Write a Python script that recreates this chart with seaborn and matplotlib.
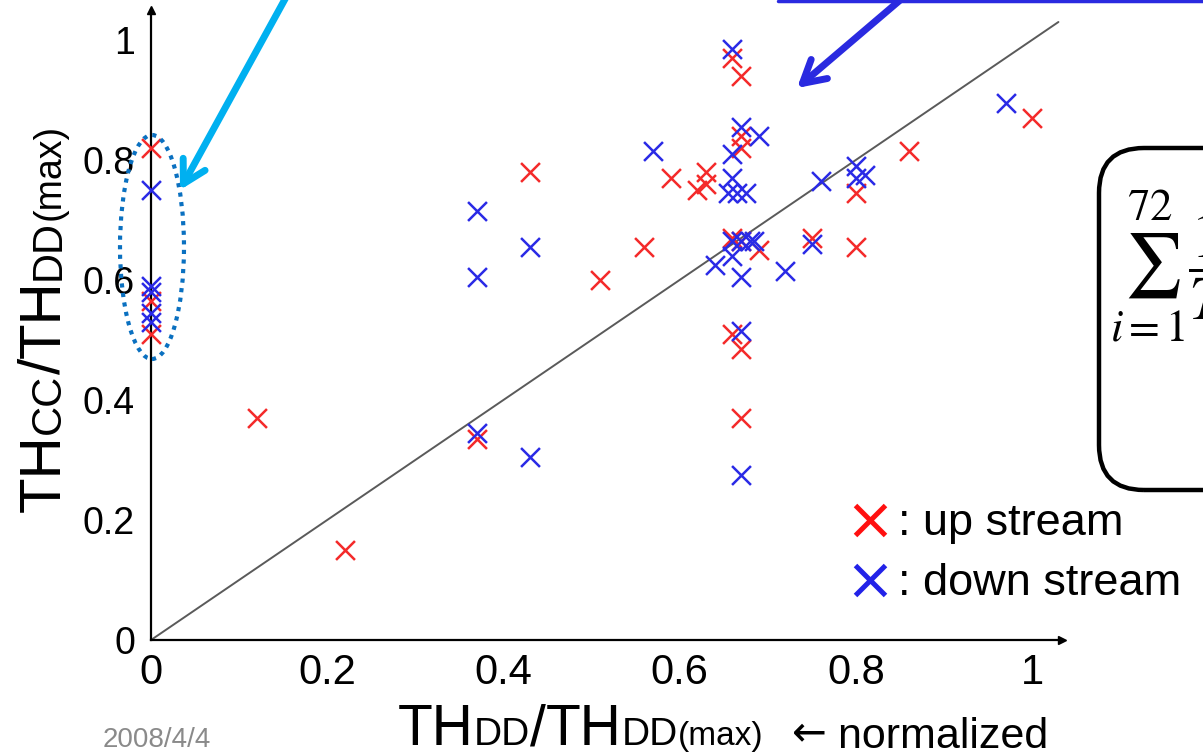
import numpy as np
import pandas as pd
import matplotlib
matplotlib.use("Agg")
import matplotlib.pyplot as plt
import seaborn as sns
from matplotlib import font_manager
from matplotlib.transforms import IdentityTransform
from matplotlib.patches import FancyBboxPatch, Ellipse, FancyArrowPatch
from matplotlib.lines import Line2D

# ---------------- data ----------------
up_x = [0, 0, 0, 0.12, 0.22, 0.37, 0.43, 0.51, 0.56, 0.59, 0.62, 0.63, 0.63,
        0.66, 0.67, 0.67, 0.67, 0.66, 0.67, 0.69, 0.66, 0.67, 0.67, 0.75,
        0.80, 0.80, 0.86, 1.00]
up_y = [0.82, 0.565, 0.51, 0.37, 0.15, 0.335, 0.78, 0.60, 0.655, 0.77, 0.75,
        0.78, 0.76, 0.97, 0.94, 0.84, 0.82, 0.67, 0.665, 0.65, 0.51, 0.485,
        0.37, 0.67, 0.745, 0.655, 0.815, 0.87]
down_x = [0, 0, 0, 0, 0, 0.37, 0.37, 0.37, 0.43, 0.43, 0.57, 0.66, 0.67, 0.69,
          0.66, 0.66, 0.655, 0.665, 0.675, 0.66, 0.67, 0.68, 0.685, 0.64,
          0.66, 0.67, 0.72, 0.67, 0.67, 0.75, 0.76, 0.80, 0.81, 0.80, 0.97]
down_y = [0.75, 0.59, 0.58, 0.545, 0.53, 0.715, 0.605, 0.345, 0.655, 0.305,
          0.815, 0.985, 0.855, 0.84, 0.81, 0.77, 0.745, 0.745, 0.745, 0.665,
          0.665, 0.665, 0.665, 0.625, 0.64, 0.605, 0.615, 0.515, 0.275, 0.66,
          0.765, 0.79, 0.775, 0.77, 0.895]
diag = [0, 1.03]
tick_vals = [0, 0.2, 0.4, 0.6, 0.8, 1.0]
tick_labels = ["0", "0.2", "0.4", "0.6", "0.8", "1"]
legend_labels = [": up stream", ": down stream"]

RED = "#f42a2a"
BLUE = "#2a2ae6"

# ---------------- style ----------------
sns.set_theme(style="white")
plt.rcParams["font.family"] = ["Liberation Sans", "DejaVu Sans"]
names = {f.name for f in font_manager.fontManager.ttflist}
NARROW = "Liberation Sans Narrow" if "Liberation Sans Narrow" in names else "Liberation Sans"

W, H = 1203, 755
fig = plt.figure(figsize=(W / 100, H / 100), dpi=100)
fig.patch.set_facecolor("white")

# axes placement in pixels: origin (151,640), 1 unit = 881 px (x), 600 px (y)
x0, y0, ux, uy = 151, 640, 881, 600
xmax, ymax = 1.034, 1.05
ax = fig.add_axes([x0 / W, (H - y0) / H, xmax * ux / W, ymax * uy / H])
ax.set_xlim(0, xmax)
ax.set_ylim(0, ymax)
ax.set_facecolor("none")

# diagonal
ax.plot(diag, diag, color="#5a5a5a", lw=1.4, zorder=1)

df_up = pd.DataFrame({"x": up_x, "y": up_y})
df_dn = pd.DataFrame({"x": down_x, "y": down_y})
sns.scatterplot(data=df_up, x="x", y="y", marker="x", color=RED, s=185,
                linewidth=1.8, ax=ax, clip_on=False, zorder=3)
sns.scatterplot(data=df_dn, x="x", y="y", marker="x", color=BLUE, s=185,
                linewidth=1.8, ax=ax, clip_on=False, zorder=3)

# spines / ticks
for s in ["top", "right"]:
    ax.spines[s].set_visible(False)
for s in ["left", "bottom"]:
    ax.spines[s].set_color("black")
    ax.spines[s].set_linewidth(1.6)
ax.plot(1, 0, ">", color="black", ms=6, transform=ax.transAxes, clip_on=False)
ax.plot(0, 1, "^", color="black", ms=6, transform=ax.transAxes, clip_on=False)
ax.set_xticks(tick_vals)
ax.set_yticks(tick_vals)
ax.set_xticklabels(tick_labels, fontsize=30, family=NARROW)
ax.set_yticklabels(tick_labels, fontsize=27)
ax.tick_params(axis="both", direction="inout", length=9, width=1.2,
               color="black", labelcolor="black")
ax.tick_params(axis="x", pad=5)
ax.tick_params(axis="y", pad=7)
ax.set_xlabel("")
ax.set_ylabel("")

# ---------------- composed axis labels ----------------
renderer = fig.canvas.get_renderer()


def pieces(parts, start, rotation=0):
    x, y = start
    for txt, size in parts:
        t = fig.text(0, 0, txt, fontsize=size, family=NARROW)
        w = t.get_window_extent(renderer).width
        t.remove()
        fig.text(x / W, (H - y) / H, txt, fontsize=size, family=NARROW,
                 ha="left", va="baseline", rotation=rotation,
                 rotation_mode="anchor", color="black")
        if rotation == 0:
            x += w
        else:
            y -= w


pieces([("TH", 41), ("DD", 28), ("/", 41), ("TH", 41), ("DD", 28), ("(max)", 24)],
       (398, 745))
pieces([("TH", 42), ("CC", 30), ("/", 42), ("TH", 42), ("DD", 30), ("(max)", 27)],
       (60, 512), rotation=90)

fig.text(103 / W, (H - 747) / H, "2008/4/4", fontsize=20, family=NARROW,
         color="#8a8a8a", ha="left", va="baseline")
fig.text(792 / W, (H - 745) / H, "\u2190", fontsize=30,
         family=["DejaVu Sans"], color="black", ha="left", va="baseline")
fig.text(826 / W, (H - 748) / H, " normalized", fontsize=31,
         color="black", ha="left", va="baseline")

# ---------------- legend ----------------
for (cy, col, lab) in [(520, "#ff1010", legend_labels[0]),
                       (580, "#2222e8", legend_labels[1])]:
    fig.add_artist(Line2D([870], [H - cy], marker="x", ms=21, mew=3.6,
                          color=col, transform=IdentityTransform()))
    fig.text(898 / W, (H - cy - 15) / H, lab, fontsize=32.5, color="black",
             ha="left", va="baseline")

# ---------------- annotations ----------------
fig.add_artist(Ellipse((152, H - 247), 64, 224, fill=False, ec="#0a70c0",
                       lw=3, ls=(0, (1, 1.3)), transform=IdentityTransform()))

for (tail, tip, col) in [((290, -10), (180, 190), "#00b0f0"),
                         ((912, -10), (797, 88), "#2a2ae0")]:
    fig.add_artist(FancyArrowPatch((tail[0], H - tail[1]), (tip[0], H - tip[1]),
                                   arrowstyle="->,head_length=16,head_width=9",
                                   mutation_scale=1, color=col, lw=5,
                                   shrinkA=0, shrinkB=0,
                                   transform=IdentityTransform()))
fig.add_artist(Line2D([778, 1210], [H - 1, H - 1], color="#2a2ae0", lw=2.5,
                      transform=IdentityTransform()))

# rounded box with formula (cut off by figure edge, as in the source slide)
fig.add_artist(FancyBboxPatch((1099, H - 490), 200, 342,
                              boxstyle="round,pad=0,rounding_size=45",
                              fc="none", ec="black", lw=3.2,
                              transform=IdentityTransform()))
fig.text(1110 / W, (H - 266) / H, r"$\sum_{i=1}^{72}\dfrac{1}{T}$",
         fontsize=46, math_fontfamily="stix", ha="left", va="center",
         color="black")

fig.savefig("out.png", dpi=100)
